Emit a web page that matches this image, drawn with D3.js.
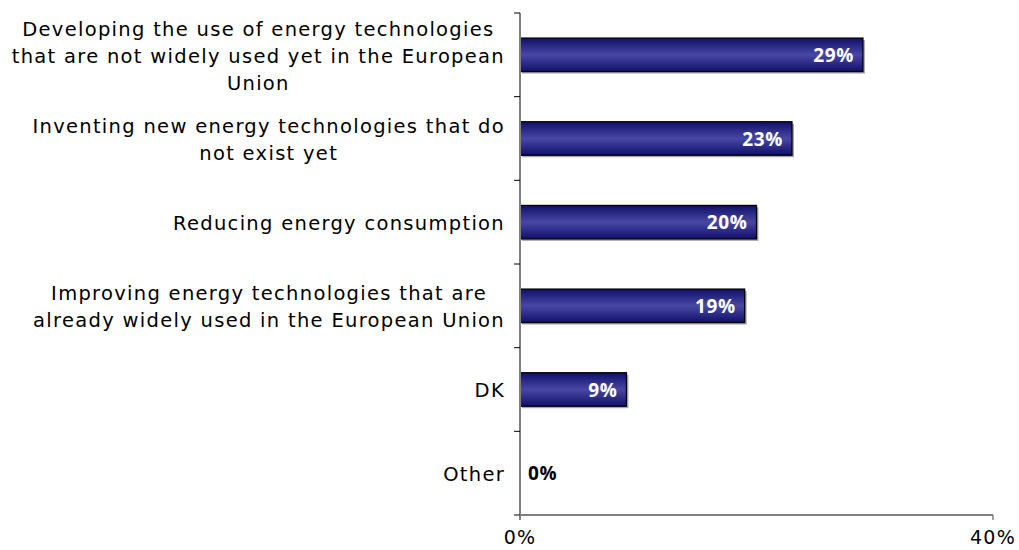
<!DOCTYPE html>
<html>
<head>
<meta charset="utf-8">
<script src="https://cdn.jsdelivr.net/npm/d3@7"></script>
<style>
  html, body { margin: 0; padding: 0; background: #fff; }
  svg { display: block; }
  text { font-family: "DejaVu Sans", Verdana, sans-serif; }
</style>
</head>
<body>
<svg id="chart" width="1019" height="550"></svg>
<script>
// Answers and their shares (%)
const categories = [
  "Developing the use of energy technologies\nthat are not widely used yet in the European\nUnion",
  "Inventing new energy technologies that do\nnot exist yet",
  "Reducing energy consumption",
  "Improving energy technologies that are\nalready widely used in the European Union",
  "DK",
  "Other"
];
const values = [29, 23, 20, 19, 9, 0];
const xTicks = [0, 40];

const svg = d3.select("#chart");
const margin = { left: 520, right: 26, top: 13, bottom: 35 };
const W = 1019, H = 550;

const x = d3.scaleLinear().domain([0, 40]).range([margin.left, W - margin.right]);
const y = d3.scaleBand().domain(categories).range([margin.top, H - margin.bottom]).paddingInner(0.6).paddingOuter(0.3);
const yOuter = d3.scaleBand().domain(categories).range([margin.top, H - margin.bottom]);

// Bar fill: dark edges, lighter middle
const defs = svg.append("defs");
const grad = defs.append("linearGradient").attr("id", "barGrad")
  .attr("x1", 0).attr("y1", 0).attr("x2", 0).attr("y2", 1);
grad.append("stop").attr("offset", "0%").attr("stop-color", "#10106a");
grad.append("stop").attr("offset", "50%").attr("stop-color", "#4848a4");
grad.append("stop").attr("offset", "100%").attr("stop-color", "#10106a");

const bars = svg.append("g");
const data = categories.map((c, i) => ({ c, v: values[i] }));

// drop shadow
bars.selectAll("rect.shadow").data(data.filter(d => d.v > 0)).join("rect")
  .attr("class", "shadow")
  .attr("x", x(0) + 2)
  .attr("y", d => y(d.c) + 2)
  .attr("width", d => x(d.v) - x(0))
  .attr("height", y.bandwidth())
  .attr("fill", "#a8a8a8");

bars.selectAll("rect.bar").data(data.filter(d => d.v > 0)).join("rect")
  .attr("class", "bar")
  .attr("x", x(0))
  .attr("y", d => y(d.c))
  .attr("width", d => x(d.v) - x(0))
  .attr("height", y.bandwidth())
  .attr("fill", "url(#barGrad)")
  .attr("stroke", "#000")
  .attr("stroke-width", 1.3);

// value labels
bars.selectAll("text.val").data(data).join("text")
  .attr("class", "val")
  .attr("x", d => d.v > 0 ? x(d.v) - 9 : x(0) + 8)
  .attr("y", d => y(d.c) + y.bandwidth() / 2)
  .attr("dy", "0.37em")
  .attr("text-anchor", d => d.v > 0 ? "end" : "start")
  .attr("fill", d => d.v > 0 ? "#fff" : "#000")
  .attr("font-weight", "bold")
  .attr("font-size", "19px")
  .style("font-family", "'Open Sans', sans-serif")
  .style("letter-spacing", "0.6px")
  .text(d => d.v + "%");

// axes
const axisColor = "#808080";
const gy = svg.append("g");
gy.append("line").attr("x1", x(0)).attr("x2", x(0))
  .attr("y1", margin.top).attr("y2", H - margin.bottom + 5)
  .attr("stroke", axisColor).attr("stroke-width", 2);
const yTickPos = categories.map(c => yOuter(c)).concat([H - margin.bottom]);
gy.selectAll("line.tick").data(yTickPos).join("line")
  .attr("class", "tick")
  .attr("x1", x(0) - 6).attr("x2", x(0))
  .attr("y1", d => d).attr("y2", d => d)
  .attr("stroke", "#000").attr("stroke-width", 1);

const gx = svg.append("g");
gx.append("line").attr("x1", x(0)).attr("x2", x(40))
  .attr("y1", H - margin.bottom).attr("y2", H - margin.bottom)
  .attr("stroke", axisColor).attr("stroke-width", 2);
gx.selectAll("line.tick").data(xTicks).join("line")
  .attr("class", "tick")
  .attr("x1", d => x(d)).attr("x2", d => x(d))
  .attr("y1", H - margin.bottom).attr("y2", H - margin.bottom + 5)
  .attr("stroke", axisColor).attr("stroke-width", 1.5);
gx.selectAll("text").data(xTicks).join("text")
  .attr("x", d => x(d))
  .attr("y", H - margin.bottom + 29)
  .attr("text-anchor", "middle")
  .attr("font-size", "19px")
  .style("letter-spacing", "1.3px")
  .attr("fill", "#000")
  .text(d => d + "%");

// category labels: centered lines, block right-aligned to the axis
const lab = svg.append("g");
const lineH = 27;
categories.forEach(c => {
  const lines = c.split("\n");
  const g = lab.append("g");
  const cy = yOuter(c) + yOuter.bandwidth() / 2;
  const ts = lines.map((t, i) => g.append("text")
    .attr("y", cy + (i - (lines.length - 1) / 2) * lineH)
    .attr("dy", "0.4em")
    .attr("text-anchor", "middle")
    .attr("font-size", "19.5px")
    .style("letter-spacing", "1.3px")
    .attr("fill", "#000")
    .text(t));
  const wmax = d3.max(ts, t => t.node().getComputedTextLength());
  const center = 505 - wmax / 2;
  ts.forEach(t => t.attr("x", center));
});
</script>
</body>
</html>
